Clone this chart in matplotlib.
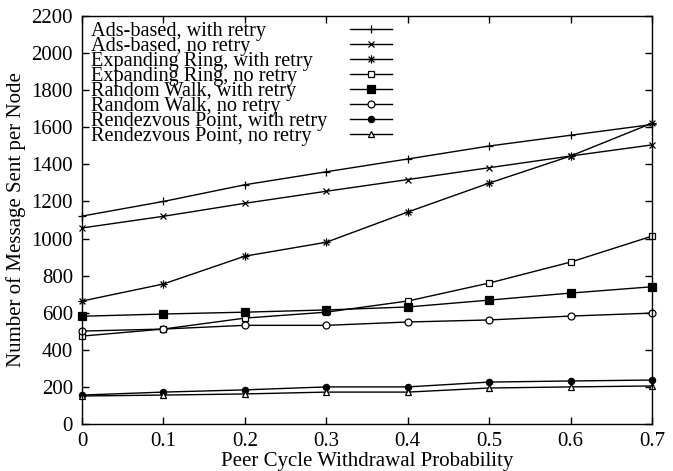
import matplotlib
matplotlib.use("Agg")
import matplotlib.pyplot as plt
from matplotlib.path import Path

plt.rcParams['font.family'] = ['Liberation Serif', 'DejaVu Serif']
plt.rcParams['font.size'] = 15

x = [0, 0.1, 0.2, 0.3, 0.4, 0.5, 0.6, 0.7]

ads_retry = [1121, 1200, 1290, 1360, 1429, 1499, 1557, 1615]
ads_noretry = [1057, 1120, 1190, 1255, 1318, 1382, 1445, 1505]
er_retry = [663, 755, 905, 980, 1143, 1299, 1445, 1622]
er_noretry = [474, 512, 571, 603, 663, 760, 873, 1013]
rw_retry = [581, 593, 603, 615, 631, 668, 706, 740]
rw_noretry = [501, 512, 532, 532, 550, 561, 582, 598]
rp_retry = [156, 172, 184, 200, 200, 226, 232, 237]
rp_noretry = [151, 156, 162, 172, 172, 194, 200, 205]

labels = ["Ads-based, with retry", "Ads-based, no retry",
          "Expanding Ring, with retry", "Expanding Ring, no retry",
          "Random Walk, with retry", "Random Walk, no retry",
          "Rendezvous Point, with retry", "Rendezvous Point, no retry"]

# gnuplot style asterisk: plus and cross together
star = Path([(-1, 0), (1, 0), (0, -1), (0, 1),
             (-0.7, -0.7), (0.7, 0.7), (-0.7, 0.7), (0.7, -0.7)],
            [Path.MOVETO, Path.LINETO] * 4)

series = [
    (ads_retry, dict(marker='+', ms=6, mfc='none')),
    (ads_noretry, dict(marker='x', ms=5, mfc='none')),
    (er_retry, dict(marker=star, ms=6, mfc='none')),
    (er_noretry, dict(marker='s', ms=5, mfc='white')),
    (rw_retry, dict(marker='s', ms=5.5, mfc='black')),
    (rw_noretry, dict(marker='o', ms=5, mfc='white')),
    (rp_retry, dict(marker='o', ms=4.5, mfc='black')),
    (rp_noretry, dict(marker='^', ms=5, mfc='white')),
]

fig = plt.figure(figsize=(6.73, 4.71), dpi=100)
ax = fig.add_axes([0.1218, 0.0998, 0.847, 0.8662])

for i, (vals, st) in enumerate(series):
    ax.plot(x, vals, color='black', lw=1, mec='black', mew=0.9, clip_on=False, **st)
    # gnuplot-like key: text on the left, sample line on the right
    yk = 0.967 - i * 0.0365
    ax.text(0.016, yk, labels[i], transform=ax.transAxes, ha='left',
            va='center_baseline', fontsize=14.6)
    ax.plot([0.470, 0.507, 0.544], [yk, yk, yk], transform=ax.transAxes,
            color='black', lw=1, mec='black', mew=0.9, markevery=[1], **st)

ax.set_xlim(0, 0.7)
ax.set_ylim(0, 2200)
ax.set_xticks(x)
ax.set_xticklabels(['0', '0.1', '0.2', '0.3', '0.4', '0.5', '0.6', '0.7'])
ax.set_yticks(range(0, 2201, 200))
ax.tick_params(direction='in', top=True, right=True, length=5, width=1)
ax.tick_params(axis='y', pad=6.5)
ax.tick_params(axis='x', pad=5.5)
for s in ax.spines.values():
    s.set_linewidth(1)
ax.set_xlabel("Peer Cycle Withdrawal Probability", labelpad=1)
ax.set_ylabel("Number of Message Sent per Node", labelpad=4)

fig.savefig("out.png", dpi=100)
